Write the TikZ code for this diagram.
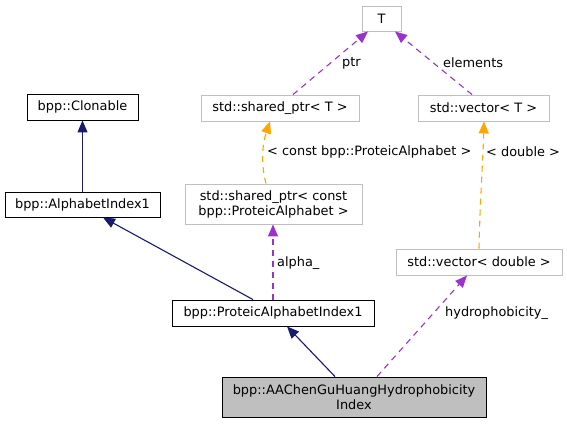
\documentclass[tikz,border=0pt]{standalone}
\usepackage{fontspec}
\setmainfont{DejaVu Sans}
\usetikzlibrary{arrows.meta}
\definecolor{navyedge}{HTML}{191970}
\definecolor{purp}{HTML}{9A32CD}
\definecolor{orng}{HTML}{FFA500}
\definecolor{gbord}{HTML}{BFBFBF}
\begin{document}
\begin{tikzpicture}[x=1pt,y=-1pt,
  every node/.style={font=\fontsize{12.9}{15}\selectfont, inner sep=0pt, align=center},
  cls/.style={draw=black, line width=0.9pt, fill=white},
  ext/.style={draw=gbord, line width=0.9pt, fill=white},
  main/.style={draw=black, line width=0.9pt, fill=gbord},
  inh/.style={draw=navyedge, line width=1.1pt, -{Triangle[length=12pt,width=10pt,fill=navyedge]}},
  usage/.style={draw=purp, line width=1.1pt, dash pattern=on 6pt off 5pt, -{Triangle[length=12pt,width=10pt,fill=purp]}},
  tmpl/.style={draw=orng, line width=1.1pt, dash pattern=on 6pt off 5pt, -{Triangle[length=12pt,width=10pt,fill=orng]}},
  lbl/.style={anchor=west, font=\fontsize{12.9}{15}\selectfont}
]
\useasboundingbox (0,0) rectangle (567,423);
\fill[white] (0,0) rectangle (567,423);

\node[ext, minimum width=39pt, minimum height=25pt] (T) at (381.5,18.5) {T};
\node[cls, minimum width=111pt, minimum height=26pt] (clon) at (82.5,107) {bpp::Clonable};
\node[cls, minimum width=155pt, minimum height=25pt] (ai) at (82.5,204.5) {bpp::AlphabetIndex1};
\node[ext, minimum width=158pt, minimum height=26pt] (sptrT) at (280,108) {std::shared\_ptr< T >};
\node[ext, minimum width=131pt, minimum height=26pt] (vecT) at (483.5,108) {std::vector< T >};
\node[ext, minimum width=177pt, minimum height=40pt] (sptrC) at (273.5,204) {std::shared\_ptr< const\\ bpp::ProteicAlphabet >};
\node[ext, minimum width=166pt, minimum height=26pt] (vecD) at (479,262) {std::vector< double >};
\node[cls, minimum width=202pt, minimum height=26pt] (pai) at (273,313) {bpp::ProteicAlphabetIndex1};
\node[main, minimum width=264pt, minimum height=40pt] (aac) at (354,397) {bpp::AAChenGuHuangHydrophobicity\\Index};

% inheritance
\draw[inh] (ai.north) -- (clon.south);
\draw[inh] ([xshift=-20pt]pai.north) -- ([xshift=20.5pt]ai.south);
\draw[inh] ([xshift=-19pt]aac.north) -- ([xshift=14pt]pai.south);

% usage
\draw[usage] ([xshift=23pt]aac.north) -- ([xshift=-12pt]vecD.south);
\draw[usage] (pai.north) -- ([xshift=-0.5pt]sptrC.south);
\draw[usage] ([xshift=13pt]sptrT.north) -- ([xshift=-13.5pt]T.south);
\draw[usage] ([xshift=-11.5pt]vecT.north) -- ([xshift=13.5pt]T.south);

% template
\draw[tmpl] ([xshift=-7.5pt]sptrC.north) .. controls (261,165) and (262,145) .. ([xshift=-10pt]sptrT.south);
\draw[tmpl] (vecD.north) .. controls (480,200) and (483,160) .. ([xshift=0.5pt]vecT.south);

% labels
\node[lbl] (lptr) at (342,63) {ptr};
\node[lbl] (lel) at (443,63) {elements};
\node[lbl] (lconst) at (267,152) {< const bpp::ProteicAlphabet >};
\node[lbl] (ldbl) at (486,152) {< double >};
\node[lbl] (lalpha) at (277,263) {alpha\_};
\node[lbl] (lhyd) at (445,313) {hydrophobicity\_};
\end{tikzpicture}
\end{document}
